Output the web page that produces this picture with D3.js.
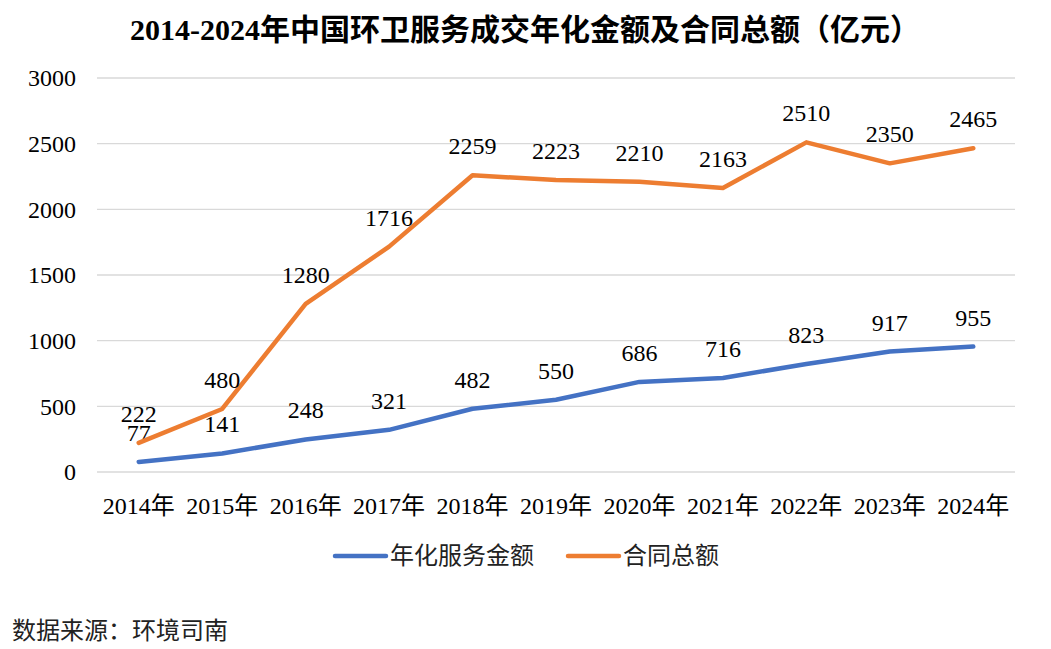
<!DOCTYPE html>
<html>
<head>
<meta charset="utf-8">
<script src="https://cdn.jsdelivr.net/npm/d3@7"></script>
<style>
  body { margin: 0; background: #fff; }
  svg { display: block; }
</style>
</head>
<body>
<svg width="1051" height="649"></svg>
<script>
// Data
const years = ["2014年","2015年","2016年","2017年","2018年","2019年","2020年","2021年","2022年","2023年","2024年"];
const annualValues = [77, 141, 248, 321, 482, 550, 686, 716, 823, 917, 955];
const contractValues = [222, 480, 1280, 1716, 2259, 2223, 2210, 2163, 2510, 2350, 2465];
const yTicks = [0, 500, 1000, 1500, 2000, 2500, 3000];

const seriesList = [
  { name: "年化服务金额", values: annualValues, color: "#4472C4" },
  { name: "合同总额", values: contractValues, color: "#ED7D31" }
];

const svg = d3.select("svg");
const width = 1051;
const margin = { top: 78, right: 36, bottom: 177, left: 97 };
const chartWidth = width - margin.left - margin.right;
const chartHeight = 649 - margin.top - margin.bottom;

const serif = "'Liberation Serif', 'Times New Roman', 'Noto Sans CJK SC', serif";
const sans = "'Noto Sans CJK SC', 'Noto Sans', sans-serif";

// Title
svg.append("text")
  .attr("x", 525)
  .attr("y", 40)
  .attr("text-anchor", "middle")
  .style("font-family", serif)
  .style("font-weight", "bold")
  .style("font-size", "30px")
  .text("2014-2024年中国环卫服务成交年化金额及合同总额（亿元）");

const g = svg.append("g")
  .attr("transform", `translate(${margin.left},${margin.top})`);

const x = d3.scaleBand()
  .domain(years)
  .range([0, chartWidth]);

const y = d3.scaleLinear()
  .domain([0, 3000])
  .range([chartHeight, 0]);

// Gridlines
g.append("g")
  .selectAll("line")
  .data(yTicks)
  .enter()
  .append("line")
  .attr("x1", 0)
  .attr("x2", chartWidth)
  .attr("y1", d => y(d))
  .attr("y2", d => y(d))
  .attr("stroke", "#d9d9d9")
  .attr("stroke-width", 1.3);

// Y axis labels
const yAxis = g.append("g")
  .call(d3.axisLeft(y).tickValues(yTicks).tickFormat(d3.format("d")).tickSize(0).tickPadding(21));
yAxis.select(".domain").remove();
yAxis.selectAll("text")
  .style("font-family", serif)
  .style("font-size", "24px")
  .attr("fill", "#000");

// X axis labels
const xAxis = g.append("g")
  .attr("transform", `translate(0,${chartHeight})`)
  .call(d3.axisBottom(x).tickSize(0).tickPadding(25));
xAxis.select(".domain").remove();
xAxis.selectAll("text")
  .style("font-family", serif)
  .style("font-size", "24px")
  .attr("fill", "#000");

// Lines
const line = d3.line()
  .x((d, i) => x(years[i]) + x.bandwidth() / 2)
  .y(d => y(d));

seriesList.forEach(s => {
  g.append("path")
    .datum(s.values)
    .attr("fill", "none")
    .attr("stroke", s.color)
    .attr("stroke-width", 4.5)
    .attr("stroke-linecap", "round")
    .attr("stroke-linejoin", "round")
    .attr("d", line);

  g.selectAll(null)
    .data(s.values)
    .enter()
    .append("text")
    .attr("x", (d, i) => x(years[i]) + x.bandwidth() / 2)
    .attr("y", d => y(d) - 21)
    .attr("text-anchor", "middle")
    .style("font-family", serif)
    .style("font-size", "24px")
    .text(d => d);
});

// Legend
const legend = svg.append("g").attr("transform", "translate(335,556)");
const legendItems = [
  { s: seriesList[0], x: 0 },
  { s: seriesList[1], x: 233 }
];
legendItems.forEach(item => {
  legend.append("line")
    .attr("x1", item.x)
    .attr("x2", item.x + 51)
    .attr("y1", 0)
    .attr("y2", 0)
    .attr("stroke", item.s.color)
    .attr("stroke-width", 4.5)
    .attr("stroke-linecap", "round");
  legend.append("text")
    .attr("x", item.x + 55)
    .attr("y", 0)
    .attr("dy", "0.35em")
    .style("font-family", sans)
    .style("font-size", "24px")
    .attr("fill", "#222")
    .text(item.s.name);
});

// Source
svg.append("text")
  .attr("x", 12)
  .attr("y", 639)
  .style("font-family", sans)
  .style("font-size", "24px")
  .attr("fill", "#222")
  .text("数据来源：环境司南");
</script>
</body>
</html>
